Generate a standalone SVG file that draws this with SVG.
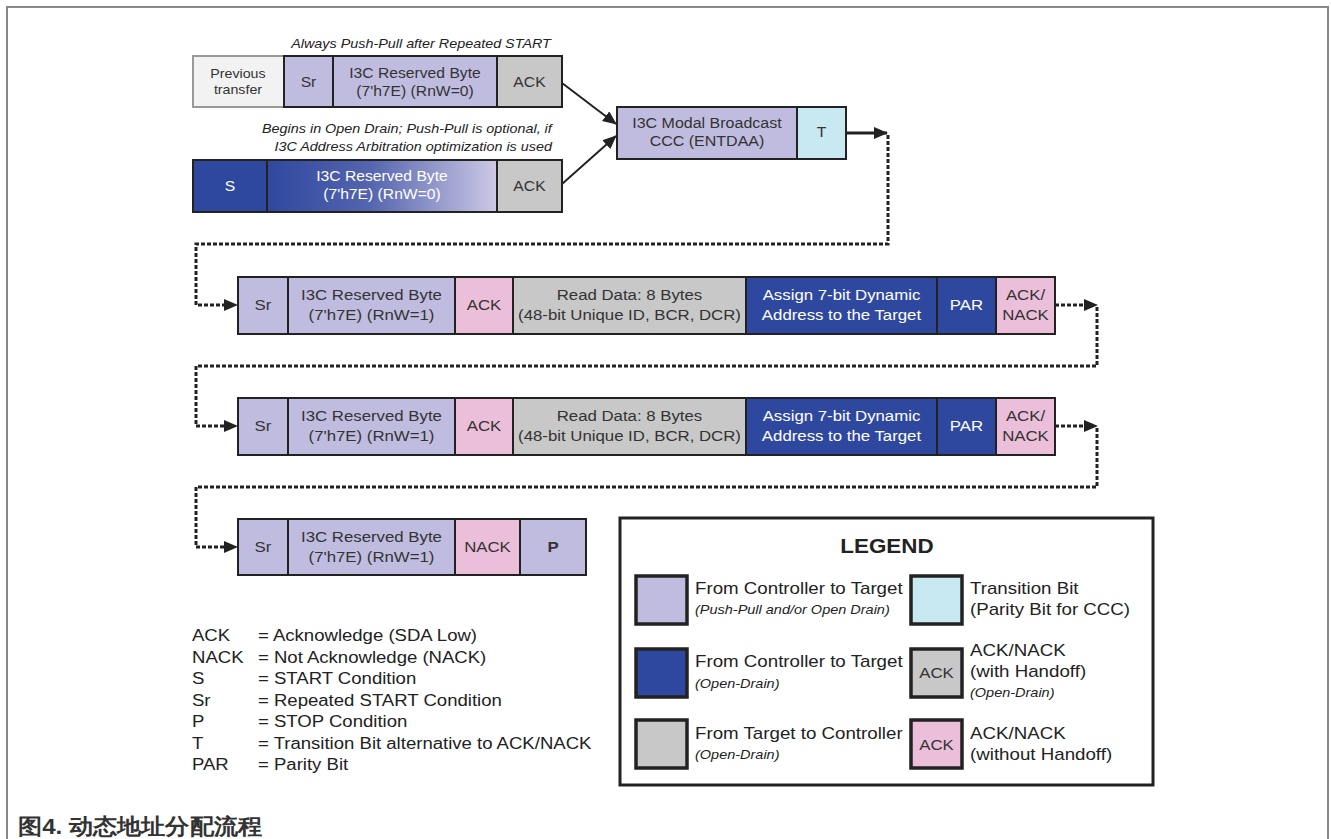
<svg xmlns="http://www.w3.org/2000/svg" width="1331" height="839" viewBox="0 0 1331 839">
<style>
text{font-family:"Liberation Sans",Arial,sans-serif;transform-box:fill-box}
.t{font-size:15px;fill:#333;text-anchor:middle;transform-origin:center;transform:scaleX(1.12)}
.s14{font-size:14px}
.s13{font-size:12.7px}
.s143{font-size:14.3px}
.w{fill:#fff}
.it{font-size:12.4px;font-style:italic;fill:#222;transform-origin:right;transform:scaleX(1.16)}
.ab{font-size:16px;fill:#222;transform-origin:left;transform:scaleX(1.16)}
.lg{font-size:16px;fill:#222;transform-origin:left;transform:scaleX(1.17)}
.lgi{font-size:12.5px;font-style:italic;fill:#222;transform-origin:left;transform:scaleX(1.16)}
.box{stroke:#222;stroke-width:2}
.lav{fill:#c0bcdf}
.dk{fill:#2f489f}
.gr{fill:#c8c8c8}
.pk{fill:#ebbfd9}
.lb{fill:#c8e8f2}
.dot{fill:none;stroke:#222;stroke-width:3;stroke-dasharray:4 2}
.sol{fill:none;stroke:#222;stroke-width:2}
.sw{stroke:#222;stroke-width:3.5}
</style>
<defs>
<linearGradient id="grad" x1="0" y1="0" x2="1" y2="0">
<stop offset="0" stop-color="#2f489f"/>
<stop offset="0.45" stop-color="#5565ae"/>
<stop offset="1" stop-color="#cdc9e6"/>
</linearGradient>
<marker id="ah2" markerWidth="14" markerHeight="12" refX="13" refY="6" orient="auto" markerUnits="userSpaceOnUse">
<path d="M0,0 L14,6 L0,12 Z" fill="#222"/>
</marker>
</defs>
<rect width="1331" height="839" fill="#fff"/>
<path d="M7,839 V7 H1328 V839" fill="none" stroke="#888" stroke-width="2"/>

<text class="it" x="551" y="48" text-anchor="end">Always Push-Pull after Repeated START</text>
<text class="it" x="552" y="133" text-anchor="end">Begins in Open Drain; Push-Pull is optional, if</text>
<text class="it" x="552" y="151" text-anchor="end">I3C Address Arbitration optimization is used</text>

<g id="row0">
<rect x="193" y="56" width="91" height="51" fill="#f2f2f2" stroke="#999" stroke-width="2"/>
<text class="t s13" x="238" y="78">Previous</text>
<text class="t s13" x="238" y="94">transfer</text>
<rect class="box lav" x="284" y="56" width="49" height="51"/>
<text class="t s14" x="308.5" y="87">Sr</text>
<rect class="box lav" x="333" y="56" width="164" height="51"/>
<text class="t s14" x="415" y="78">I3C Reserved Byte</text>
<text class="t s14" x="415" y="96">(7'h7E) (RnW=0)</text>
<rect class="box gr" x="497" y="56" width="65" height="51"/>
<text class="t s14" x="529.5" y="87">ACK</text>
</g>

<g id="row0b">
<rect class="box dk" x="193" y="160" width="74" height="52"/>
<text class="t s14 w" x="230" y="191">S</text>
<rect class="box" x="267" y="160" width="230" height="52" fill="url(#grad)"/>
<text class="t s14 w" x="382" y="181">I3C Reserved Byte</text>
<text class="t s14 w" x="382" y="199">(7'h7E) (RnW=0)</text>
<rect class="box gr" x="497" y="160" width="65" height="52"/>
<text class="t s14" x="529.5" y="191">ACK</text>
</g>

<g id="entdaa">
<rect class="box lav" x="617" y="107" width="180" height="52"/>
<text class="t s143" x="707" y="128">I3C Modal Broadcast</text>
<text class="t s143" x="707" y="146">CCC (ENTDAA)</text>
<rect class="box lb" x="797" y="107" width="49" height="52"/>
<text class="t s14" x="821.5" y="137">T</text>
</g>

<g id="row1">
<rect class="box lav" x="238" y="277" width="50" height="57"/>
<text class="t" x="263" y="310">Sr</text>
<rect class="box lav" x="288" y="277" width="167" height="57"/>
<text class="t" x="371.5" y="300">I3C Reserved Byte</text>
<text class="t" x="371.5" y="320">(7'h7E) (RnW=1)</text>
<rect class="box pk" x="455" y="277" width="58" height="57"/>
<text class="t" x="484" y="310">ACK</text>
<rect class="box gr" x="513" y="277" width="233" height="57"/>
<text class="t" x="629.5" y="300">Read Data: 8 Bytes</text>
<text class="t" x="629.5" y="320">(48-bit Unique ID, BCR, DCR)</text>
<rect class="box dk" x="746" y="277" width="191" height="57"/>
<text class="t w" x="841.5" y="300">Assign 7-bit Dynamic</text>
<text class="t w" x="841.5" y="320">Address to the Target</text>
<rect class="box dk" x="937" y="277" width="59" height="57"/>
<text class="t w" x="966.5" y="310">PAR</text>
<rect class="box pk" x="996" y="277" width="59" height="57"/>
<text class="t" x="1025.5" y="300">ACK/</text>
<text class="t" x="1025.5" y="320">NACK</text>
</g>

<g id="row2">
<rect class="box lav" x="238" y="398" width="50" height="57"/>
<text class="t" x="263" y="431">Sr</text>
<rect class="box lav" x="288" y="398" width="167" height="57"/>
<text class="t" x="371.5" y="421">I3C Reserved Byte</text>
<text class="t" x="371.5" y="441">(7'h7E) (RnW=1)</text>
<rect class="box pk" x="455" y="398" width="58" height="57"/>
<text class="t" x="484" y="431">ACK</text>
<rect class="box gr" x="513" y="398" width="233" height="57"/>
<text class="t" x="629.5" y="421">Read Data: 8 Bytes</text>
<text class="t" x="629.5" y="441">(48-bit Unique ID, BCR, DCR)</text>
<rect class="box dk" x="746" y="398" width="191" height="57"/>
<text class="t w" x="841.5" y="421">Assign 7-bit Dynamic</text>
<text class="t w" x="841.5" y="441">Address to the Target</text>
<rect class="box dk" x="937" y="398" width="59" height="57"/>
<text class="t w" x="966.5" y="431">PAR</text>
<rect class="box pk" x="996" y="398" width="59" height="57"/>
<text class="t" x="1025.5" y="421">ACK/</text>
<text class="t" x="1025.5" y="441">NACK</text>
</g>

<g id="row3">
<rect class="box lav" x="238" y="519" width="50" height="56"/>
<text class="t" x="263" y="552">Sr</text>
<rect class="box lav" x="288" y="519" width="167" height="56"/>
<text class="t" x="371.5" y="542">I3C Reserved Byte</text>
<text class="t" x="371.5" y="562">(7'h7E) (RnW=1)</text>
<rect class="box pk" x="455" y="519" width="65" height="56"/>
<text class="t" x="487.5" y="552">NACK</text>
<rect class="box lav" x="520" y="519" width="66" height="56"/>
<text class="t" x="553" y="552" font-weight="bold">P</text>
</g>

<g id="connectors">
<path class="sol" d="M562,83 L616,124" marker-end="url(#ah2)"/>
<path class="sol" d="M562,184 L616,136" marker-end="url(#ah2)"/>
<path d="M846,133 H887" fill="none" stroke="#222" stroke-width="3" marker-end="url(#ah2)"/>
<path class="dot" d="M888,135 V244 H196 V305 H226"/>
<path d="M224,299 L238,305 L224,311 Z" fill="#222"/>
<path class="dot" d="M1055,305 H1086"/>
<path d="M1084,299 L1098,305 L1084,311 Z" fill="#222"/>
<path class="dot" d="M1097,307 V366 H196 V426 H226"/>
<path d="M224,420 L238,426 L224,432 Z" fill="#222"/>
<path class="dot" d="M1055,426 H1086"/>
<path d="M1084,420 L1098,426 L1084,432 Z" fill="#222"/>
<path class="dot" d="M1097,428 V487 H196 V547 H226"/>
<path d="M224,541 L238,547 L224,553 Z" fill="#222"/>
</g>

<g id="abbrev">
<text class="ab" x="192" y="641">ACK</text><text class="ab" x="258" y="641">= Acknowledge (SDA Low)</text>
<text class="ab" x="192" y="663">NACK</text><text class="ab" x="258" y="663">= Not Acknowledge (NACK)</text>
<text class="ab" x="192" y="684">S</text><text class="ab" x="258" y="684">= START Condition</text>
<text class="ab" x="192" y="706">Sr</text><text class="ab" x="258" y="706">= Repeated START Condition</text>
<text class="ab" x="192" y="727">P</text><text class="ab" x="258" y="727">= STOP Condition</text>
<text class="ab" x="192" y="749">T</text><text class="ab" x="258" y="749">= Transition Bit alternative to ACK/NACK</text>
<text class="ab" x="192" y="770">PAR</text><text class="ab" x="258" y="770">= Parity Bit</text>
</g>

<g id="legend">
<rect x="620" y="518" width="533" height="267" fill="#fff" stroke="#222" stroke-width="3"/>
<text class="t" x="887" y="553" style="font-size:20px;font-weight:bold;fill:#222">LEGEND</text>
<rect class="sw lav" x="636" y="576" width="51" height="48"/>
<text class="lg" x="695" y="594">From Controller to Target</text>
<text class="lgi" x="695" y="614">(Push-Pull and/or Open Drain)</text>
<rect class="sw dk" x="636" y="649" width="51" height="48"/>
<text class="lg" x="695" y="667">From Controller to Target</text>
<text class="lgi" x="695" y="688">(Open-Drain)</text>
<rect class="sw gr" x="636" y="720" width="51" height="48"/>
<text class="lg" x="695" y="739">From Target to Controller</text>
<text class="lgi" x="695" y="759">(Open-Drain)</text>
<rect class="sw lb" x="911" y="576" width="51" height="48"/>
<text class="lg" x="970" y="594">Transition Bit</text>
<text class="lg" x="970" y="615">(Parity Bit for CCC)</text>
<rect class="sw gr" x="911" y="649" width="51" height="48"/>
<text class="t" x="936.5" y="678">ACK</text>
<text class="lg" x="970" y="656">ACK/NACK</text>
<text class="lg" x="970" y="677">(with Handoff)</text>
<text class="lgi" x="970" y="697">(Open-Drain)</text>
<rect class="sw pk" x="911" y="720" width="51" height="48"/>
<text class="t" x="936.5" y="750">ACK</text>
<text class="lg" x="970" y="739">ACK/NACK</text>
<text class="lg" x="970" y="760">(without Handoff)</text>
</g>

<text x="18" y="834" font-family="Liberation Sans, 'Noto Sans CJK SC', sans-serif" font-size="22" font-weight="bold" fill="#333" textLength="244" lengthAdjust="spacingAndGlyphs">图4. 动态地址分配流程</text>
</svg>
